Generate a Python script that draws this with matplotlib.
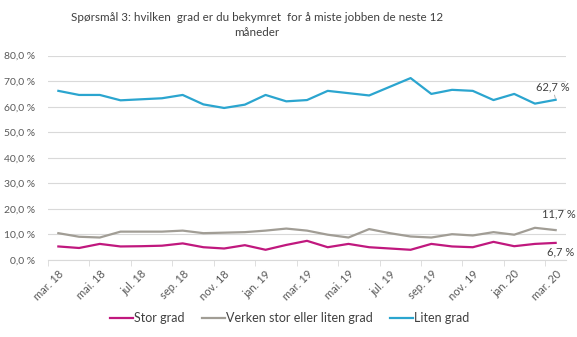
import matplotlib.pyplot as plt
import numpy as np

plt.rcParams['font.family'] = ['Lato', 'DejaVu Sans']

# months mar. 18 -> mar. 20
months = ['mar. 18', 'apr. 18', 'mai. 18', 'jun. 18', 'jul. 18', 'aug. 18', 'sep. 18',
          'okt. 18', 'nov. 18', 'des. 18', 'jan. 19', 'feb. 19', 'mar. 19', 'apr. 19',
          'mai. 19', 'jun. 19', 'jul. 19', 'aug. 19', 'sep. 19', 'okt. 19', 'nov. 19',
          'des. 19', 'jan. 20', 'feb. 20', 'mar. 20']

stor_grad = [5.3, 4.7, 6.3, 5.3, 5.4, 5.6, 6.5, 5.0, 4.5, 5.8, 4.0, 5.9, 7.5,
             5.0, 6.3, 5.0, 4.5, 4.0, 6.3, 5.3, 5.0, 7.1, 5.4, 6.3, 6.7]
verken = [10.5, 9.1, 8.8, 11.1, 11.1, 11.1, 11.5, 10.5, 10.7, 10.9, 11.5, 12.3, 11.5,
          9.9, 8.8, 12.1, 10.5, 9.2, 8.8, 10.1, 9.6, 10.9, 9.9, 12.6, 11.7]
liten_grad = [66.2, 64.6, 64.6, 62.5, 62.9, 63.3, 64.6, 60.9, 59.5, 60.8, 64.6, 62.1, 62.6,
              66.2, 65.3, 64.4, 67.8, 71.2, 65.0, 66.6, 66.2, 62.6, 65.0, 61.2, 62.7]

series = [('Stor grad', stor_grad, '#C0187E'),
          ('Verken stor eller liten grad', verken, '#A19D95'),
          ('Liten grad', liten_grad, '#2BA5CF')]

W, H = 577, 337
fig = plt.figure(figsize=(W / 100, H / 100), dpi=100)
ax = fig.add_axes([48 / W, 1 - 260 / H, (566 - 48) / W, (260 - 55.6) / H])

x = np.arange(len(months))
for name, vals, col in series:
    ax.plot(x, vals, color=col, lw=1.6, label=name, solid_joinstyle='round')

ax.set_xlim(-0.5, len(months) - 0.5)
ax.set_ylim(0, 80)
ax.set_yticks(np.arange(0, 81, 10))
ax.set_yticklabels([f'{v:.1f} %'.replace('.', ',') for v in np.arange(0, 81, 10)],
                   fontsize=7.5, color='#595959')
ax.tick_params(axis='y', length=0, pad=9)
ax.grid(axis='y', color='#D9D9D9', lw=0.8)
ax.set_axisbelow(True)

ax.set_xticks(x[::2])
ax.set_xticklabels(months[::2], rotation=45, ha='right', rotation_mode='anchor',
                   fontsize=8, color='#595959')
ax.set_xticks(np.arange(-0.5, len(months), 2), minor=True)
ax.tick_params(axis='x', which='major', length=0, pad=6)
ax.tick_params(axis='x', which='minor', length=4, color='#D9D9D9')

for s in ['top', 'right', 'left']:
    ax.spines[s].set_visible(False)
ax.spines['bottom'].set_color('#D9D9D9')

# end labels
last = len(months) - 1
ax.annotate('62,7 %', (last, liten_grad[-1]), xytext=(-3, 13), textcoords='offset pixels',
            ha='center', va='center', fontsize=8, color='#404040',
            arrowprops=dict(arrowstyle='-', color='#A6A6A6', lw=0.6, shrinkA=4, shrinkB=1))
ax.annotate('11,7 %', (last, verken[-1]), xytext=(3, 16), textcoords='offset pixels',
            ha='center', va='center', fontsize=8, color='#404040',
            arrowprops=dict(arrowstyle='-', color='#A6A6A6', lw=0.6, shrinkA=5, shrinkB=1))
ax.annotate('6,7 %', (last, stor_grad[-1]), xytext=(5, -9), textcoords='offset pixels',
            ha='center', va='center', fontsize=8, color='#404040')

fig.text(257 / W, 1 - 25 / H,
         'Spørsmål 3: hvilken  grad er du bekymret  for å miste jobben de neste 12\nmåneder',
         ha='center', va='center', fontsize=8.4, color='#404040', linespacing=1.35)

fig.legend(loc='center', bbox_to_anchor=(0.502, 1 - 318 / H), ncol=3, frameon=False,
           fontsize=9, handlelength=1.8, handletextpad=0.1, columnspacing=1.4,
           labelcolor='#404040')

fig.savefig('out.png', dpi=100)
